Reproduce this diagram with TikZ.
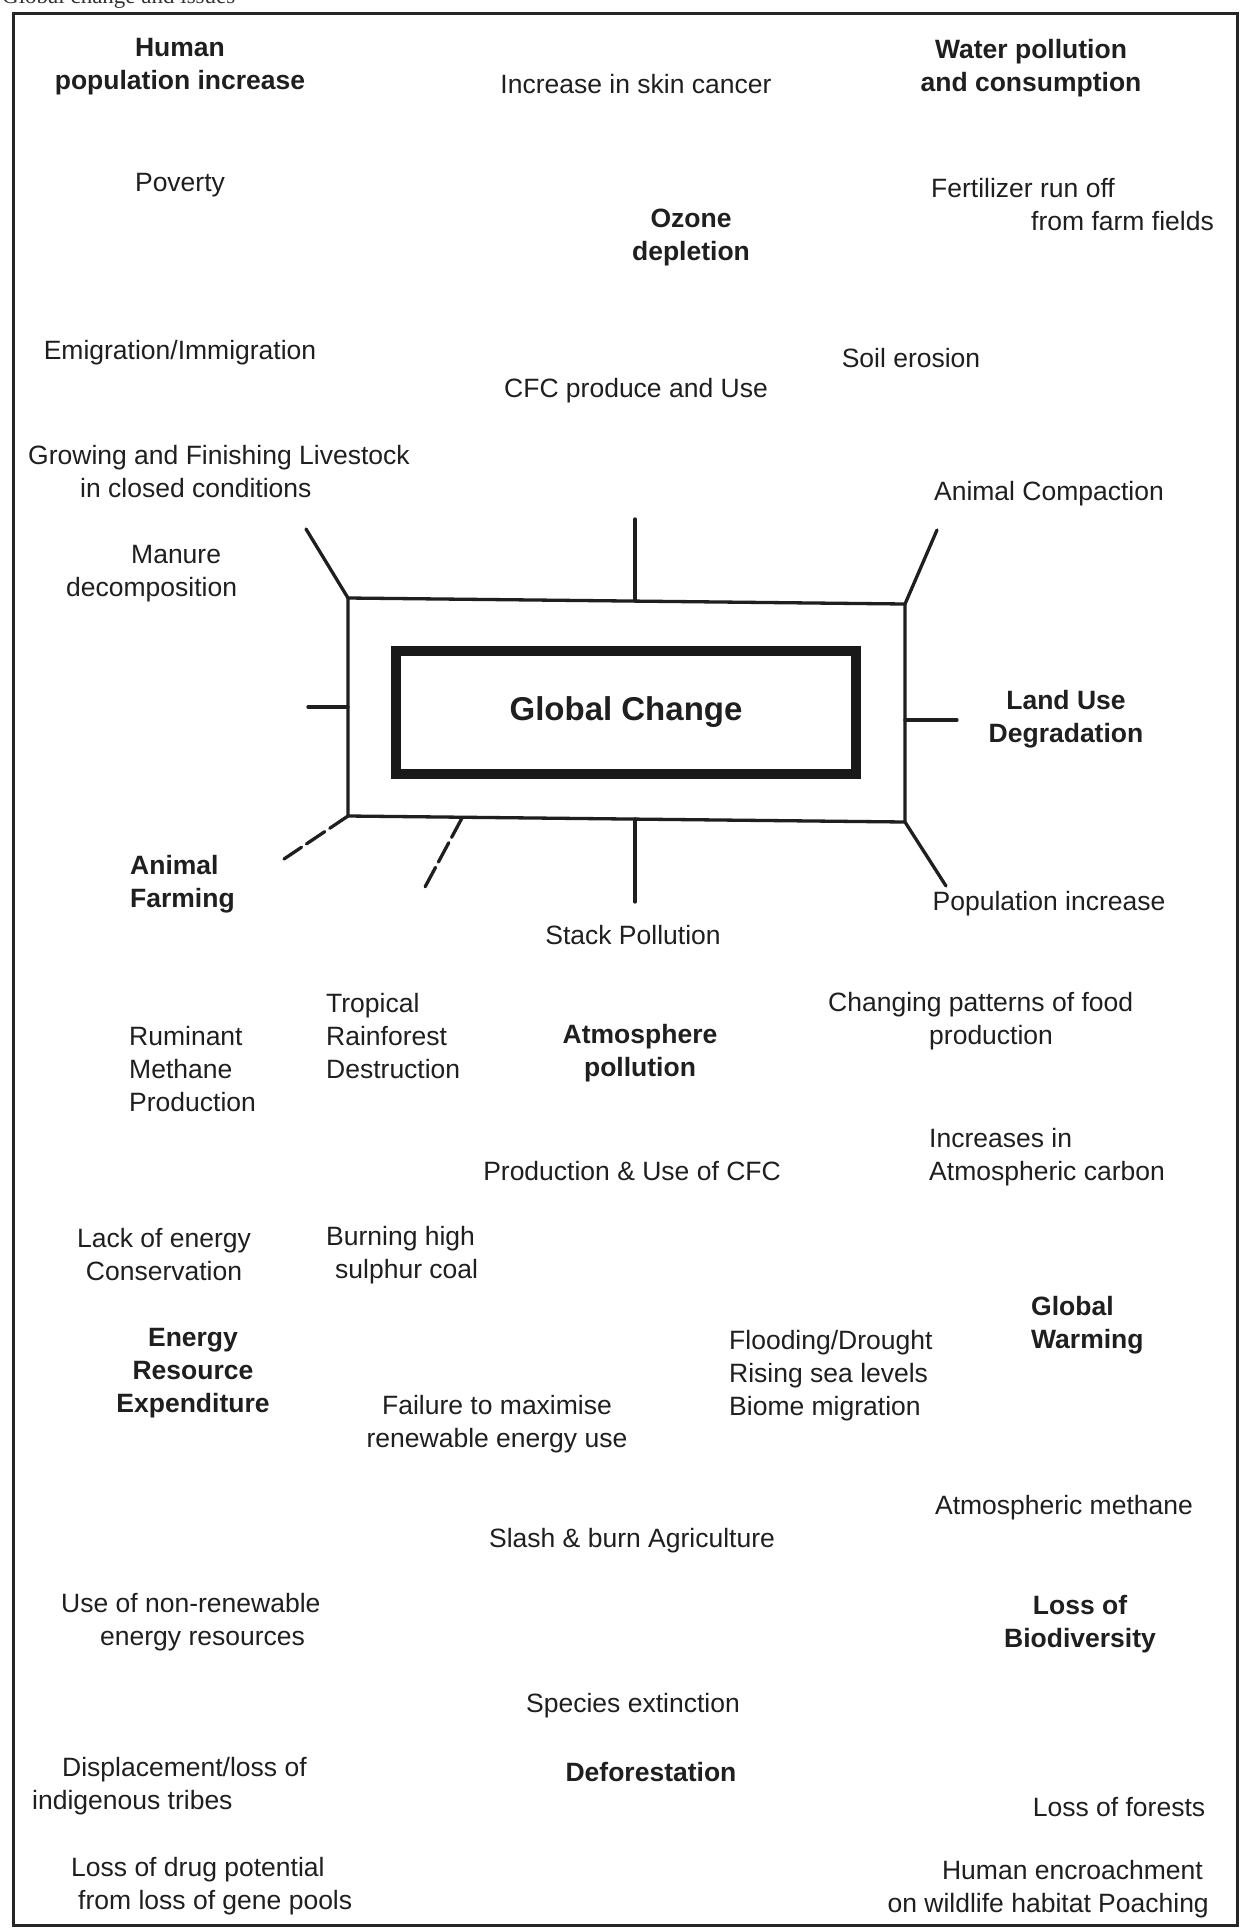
\documentclass[tikz,border=0pt]{standalone}
\usepackage{fontspec}
\setmainfont{Liberation Sans}
\newfontfamily\hdrfont{Liberation Serif}
\begin{document}
\begin{tikzpicture}[x=1pt,y=-1pt,
  lbl/.style={inner sep=0pt, text=black!88, font=\fontsize{26.5}{33}\selectfont, align=center},
  bl/.style={lbl, font=\fontsize{26.5}{33}\selectfont\bfseries},
  ll/.style={lbl, align=left, anchor=west},
  bll/.style={bl, align=left, anchor=west},
  spoke/.style={line width=3.3pt, line cap=round, black!88},
  dspoke/.style={spoke, dash pattern=on 22pt off 6pt},
  frameline/.style={line width=3.3pt, black!88, line join=round},
]
\useasboundingbox (0,0) rectangle (1241,1928);
\fill[white] (0,0) rectangle (1241,1928);

% header, cut off at top
\begin{scope}
\clip (0,0) rectangle (1241,10);
\node[anchor=base west, inner sep=0pt, text=black!80, font=\hdrfont\fontsize{23}{26}\selectfont] (hdr) at (2,3) {Global change and issues};
\end{scope}

% page frame
\draw[line width=3pt, black!85] (13,13) rectangle (1237,1925);

% central box
\node[draw=black!90, line width=10pt, minimum width=460pt, minimum height=123pt, inner sep=0pt,
      font=\fontsize{33}{38}\selectfont\bfseries, text=black!88] (gc) at (626,712) {Global Change};

% thin frame around box
\coordinate (tl) at (348,598);
\coordinate (tr) at (905,604);
\coordinate (br) at (905,822);
\coordinate (bl) at (348,816);
\draw[frameline] (bl) -- (tl) -- (tr) -- (br) -- cycle;

% spoke ends and bases
\coordinate (tm) at (635,601);
\coordinate (bm) at (635,819);
\coordinate (lm) at (348,707);
\coordinate (rm) at (905,720);
\coordinate (b2) at (462,818);
\coordinate (etl) at (306,529);
\coordinate (etm) at (635,519);
\coordinate (etr) at (937,530);
\coordinate (elm) at (308,707);
\coordinate (erm) at (957,720);
\coordinate (ebl) at (284,859);
\coordinate (eb2) at (425,887);
\coordinate (ebm) at (635,902);
\coordinate (ebr) at (946,886);

\draw[spoke] (tl) -- (etl);
\draw[spoke] (tm) -- (etm);
\draw[spoke] (tr) -- (etr);
\draw[spoke] (lm) -- (elm);
\draw[spoke] (rm) -- (erm);
\draw[dspoke] (bl) -- (ebl);
\draw[dspoke] (b2) -- (eb2);
\draw[spoke] (bm) -- (ebm);
\draw[spoke] (br) -- (ebr);

% labels
\node[bl] (hpi) at (180,67) {Human\\population increase};
\node[lbl] (skin) at (636,84) {Increase in skin cancer};
\node[bl] (water) at (1031,68) {Water pollution\\and consumption};
\node[lbl] (pov) at (180,185) {Poverty};
\node[bl] (ozone) at (691,237) {Ozone\\depletion};
\node[ll] (fert) at (931,205) {Fertilizer run off\\\hspace*{100pt}from farm fields};
\node[lbl] (emig) at (180,353) {Emigration/Immigration};
\node[lbl] (soil) at (911,358) {Soil erosion};
\node[lbl] (cfc1) at (636,391) {CFC produce and Use};
\node[ll] (grow) at (28,472) {Growing and Finishing Livestock\\\hspace*{52pt}in closed conditions};
\node[lbl] (compact) at (1049,494) {Animal Compaction};
\node[ll] (manure) at (66,574) {\hspace*{65pt}Manure\\decomposition};
\node[bl] (land) at (1066,719) {Land Use\\Degradation};
\node[bll] (afarm) at (130,884) {Animal\\Farming};
\node[lbl] (stack) at (633,935) {Stack Pollution};
\node[lbl] (popinc) at (1049,904) {Population increase};
\node[ll] (trop) at (326,1036) {Tropical\\Rainforest\\Destruction};
\node[ll] (rumin) at (129,1069) {Ruminant\\Methane\\Production};
\node[bl] (atmos) at (640,1053) {Atmosphere\\pollution};
\node[ll] (food) at (828,1021) {Changing patterns of food\\\hspace*{101pt}production};
\node[ll] (carbon) at (929,1157) {Increases in\\Atmospheric carbon};
\node[lbl] (cfc2) at (632,1171) {Production \& Use of CFC};
\node[lbl] (lack) at (164,1255) {Lack of energy\\Conservation};
\node[ll] (burn) at (326,1255) {Burning high\\\hspace*{9pt}sulphur coal};
\node[bll] (warm) at (1031,1325) {Global\\Warming};
\node[bl] (energy) at (193,1373) {Energy\\Resource\\Expenditure};
\node[ll] (flood) at (729,1376) {Flooding/Drought\\Rising sea levels\\Biome migration};
\node[lbl] (fail) at (497,1424) {Failure to maximise\\renewable energy use};
\node[lbl] (methane) at (1064,1508) {Atmospheric methane};
\node[lbl] (slash) at (632,1541) {Slash \& burn Agriculture};
\node[ll] (nonren) at (61,1622) {Use of non-renewable\\\hspace*{39pt}energy resources};
\node[bl] (biod) at (1080,1624) {Loss of\\Biodiversity};
\node[lbl] (species) at (633,1706) {Species extinction};
\node[ll] (displ) at (32,1786) {\hspace*{30pt}Displacement/loss of\\indigenous tribes};
\node[bl] (defor) at (651,1772) {Deforestation};
\node[lbl] (lforest) at (1119,1807) {Loss of forests};
\node[ll] (drug) at (71,1886) {Loss of drug potential\\\hspace*{7pt}from loss of gene pools};
\node[lbl, align=right, anchor=east] (encr) at (1209,1889) {Human encroachment\hspace*{6pt}\\on wildlife habitat Poaching};
\end{tikzpicture}
\end{document}
